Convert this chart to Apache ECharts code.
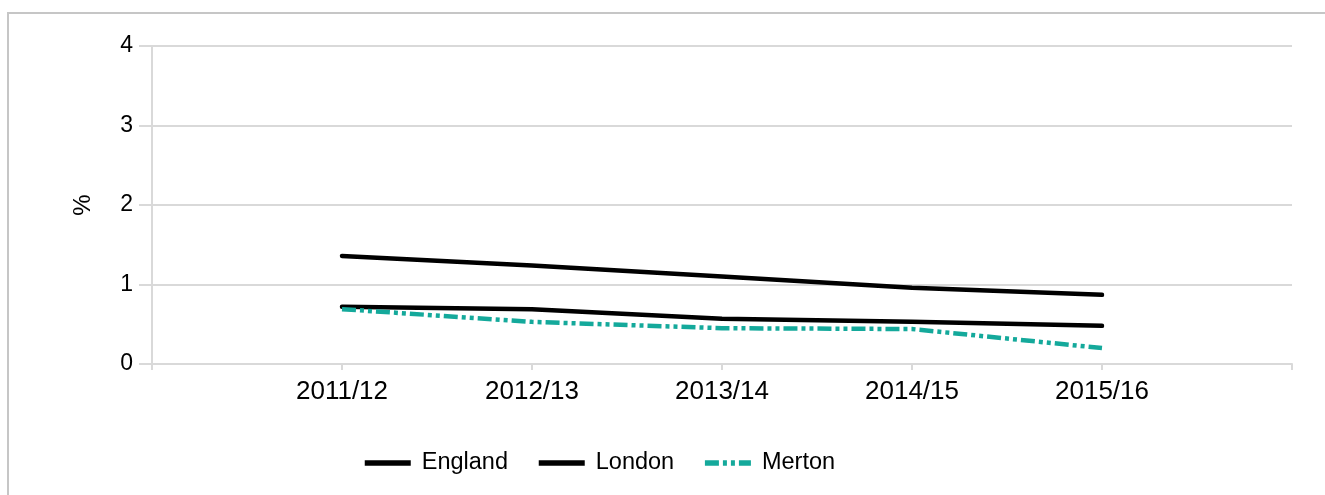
<!DOCTYPE html>
<html>
<head>
<meta charset="utf-8">
<script src="https://cdn.jsdelivr.net/npm/echarts@6/dist/echarts.min.js"></script>
<style>
  html, body { margin: 0; padding: 0; background: #fff; }
  #chart { width: 1325px; height: 495px; }
</style>
</head>
<body>
<div id="chart"></div>
<script>
// data
const years = ["2011/12", "2012/13", "2013/14", "2014/15", "2015/16"]
const england = [1.36, 1.24, 1.10, 0.96, 0.87]
const london = [0.72, 0.69, 0.57, 0.53, 0.48]
const merton = [0.69, 0.53, 0.45, 0.44, 0.20]
const yTicks = [0, 1, 2, 3, 4]

// empty slot at each end of the x axis
const cats = [""].concat(years, [""])
const pad = (arr) => [null].concat(arr, [null])

const chart = echarts.init(document.getElementById("chart"))

const gridGray = "#d9d9d9"
const font = "Liberation Sans, Arial, sans-serif"
const teal = "#14a99b"

const option = {
  animation: false,
  graphic: [
    {
      type: "rect",
      shape: { x: 8, y: 13, width: 1340, height: 500 },
      style: { fill: "none", stroke: "#c6c6c6", lineWidth: 2 },
    },
  ],
  grid: { left: 152, right: 33, top: 46, bottom: 131 },
  legend: {
    left: 357,
    top: 446,
    itemWidth: 46,
    itemHeight: 14,
    itemGap: 28,
    itemStyle: { opacity: 0 },
    lineStyle: { width: 5.5, cap: "butt" },
    textStyle: { fontFamily: font, fontSize: 23.5, color: "#000", padding: [0, 0, 0, 6] },
    data: ["England", "London", "Merton"],
  },
  xAxis: {
    type: "category",
    data: cats,
    boundaryGap: false,
    axisLine: { lineStyle: { color: gridGray, width: 2 } },
    axisTick: { length: 6, lineStyle: { color: gridGray, width: 2 } },
    axisLabel: { fontFamily: font, fontSize: 26, color: "#000", margin: 15, interval: 0 },
    splitLine: { show: false },
  },
  yAxis: {
    type: "value",
    min: yTicks[0],
    max: yTicks[yTicks.length - 1],
    interval: 1,
    name: "%",
    nameLocation: "middle",
    nameRotate: 90,
    nameGap: 57,
    nameTextStyle: { fontFamily: font, fontSize: 24, color: "#000" },
    axisLine: { show: true, lineStyle: { color: gridGray, width: 2 } },
    axisTick: { show: true, length: 13, lineStyle: { color: gridGray, width: 2 } },
    axisLabel: { fontFamily: font, fontSize: 23, color: "#000", margin: 19 },
    splitLine: { lineStyle: { color: gridGray, width: 2 } },
  },
  series: [
    {
      name: "England",
      type: "line",
      data: pad(england),
      symbol: "none",
      lineStyle: { color: "#000", width: 4.5, cap: "round" },
      itemStyle: { color: "#000" },
    },
    {
      name: "London",
      type: "line",
      data: pad(london),
      symbol: "none",
      lineStyle: { color: "#000", width: 4.5, cap: "round" },
      itemStyle: { color: "#000" },
    },
    {
      name: "Merton",
      type: "line",
      data: pad(merton),
      symbol: "none",
      lineStyle: { color: teal, width: 4.5, type: [14, 4, 4, 4, 4, 4] },
      itemStyle: { color: teal },
    },
  ],
}

chart.setOption(option)
</script>
</body>
</html>
